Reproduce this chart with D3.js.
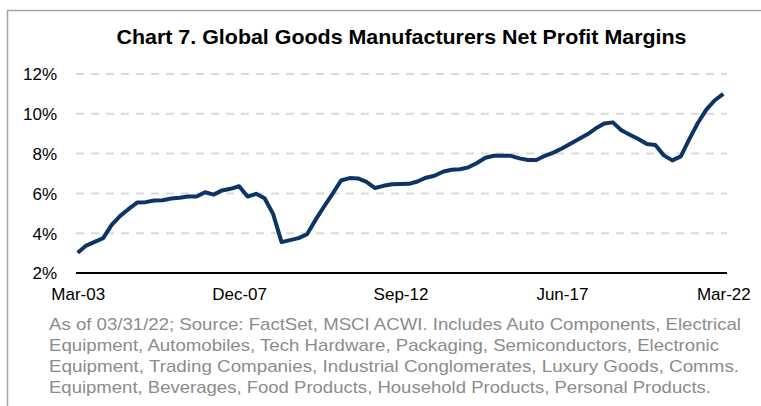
<!DOCTYPE html>
<html>
<head>
<meta charset="utf-8">
<script src="https://cdn.jsdelivr.net/npm/d3@7"></script>
<style>
  html, body { margin: 0; padding: 0; background: #fff; }
  svg { display: block; }
</style>
</head>
<body>
<svg id="chart" width="761" height="406"></svg>
<script>
// Quarter-end net profit margins (%), Mar-03 through Mar-22
const margins = [
  3.02, 3.38, 3.56, 3.75, 4.42, 4.87, 5.22, 5.54, 5.56, 5.64,
  5.66, 5.74, 5.78, 5.84, 5.84, 6.06, 5.94, 6.15, 6.23, 6.36,
  5.84, 5.98, 5.76, 4.97, 3.55, 3.65, 3.75, 3.95, 4.67, 5.34,
  5.98, 6.65, 6.77, 6.75, 6.58, 6.27, 6.38, 6.46, 6.47, 6.48,
  6.60, 6.79, 6.89, 7.09, 7.19, 7.21, 7.31, 7.53, 7.79, 7.89,
  7.89, 7.89, 7.76, 7.68, 7.68, 7.89, 8.05, 8.26, 8.50, 8.73,
  8.97, 9.27, 9.51, 9.57, 9.17, 8.95, 8.73, 8.48, 8.43, 7.91,
  7.66, 7.86, 8.73, 9.54, 10.21, 10.68, 11.00
];

// Quarter labels "Mon-YY" starting at Mar-03
const quarterMonths = ["Mar", "Jun", "Sep", "Dec"];
const startYear = 2003;
const quarters = margins.map((_, i) =>
  quarterMonths[i % 4] + "-" + String((startYear + Math.floor(i / 4)) % 100).padStart(2, "0"));

const xTickLabels = ["Mar-03", "Dec-07", "Sep-12", "Jun-17", "Mar-22"];
const yTicks = [2, 4, 6, 8, 10, 12];

const title = "Chart 7. Global Goods Manufacturers Net Profit Margins";
const footnote = [
  "As of 03/31/22; Source: FactSet, MSCI ACWI. Includes Auto Components, Electrical",
  "Equipment, Automobiles, Tech Hardware, Packaging, Semiconductors, Electronic",
  "Equipment, Trading Companies, Industrial Conglomerates, Luxury Goods, Comms.",
  "Equipment, Beverages, Food Products, Household Products, Personal Products."
];
const footnoteWidths = [692, 670, 690, 662];

const svg = d3.select("#chart");
const font = "'Liberation Sans', Arial, Helvetica, sans-serif";

// Outer frame
svg.append("path")
  .attr("d", "M7.5,406 L7.5,10.5 L761,10.5")
  .attr("fill", "none")
  .attr("stroke", "#a6a6a6")
  .attr("stroke-width", 1.5);

// Title
svg.append("text")
  .attr("x", 116.5)
  .attr("y", 43.5)
  .attr("font-family", font)
  .attr("font-weight", "bold")
  .attr("font-size", 21)
  .attr("fill", "#000")
  .attr("textLength", 570)
  .attr("lengthAdjust", "spacingAndGlyphs")
  .text(title);

const plot = { left: 76, right: 727, top: 74, bottom: 273 };

const x = d3.scalePoint()
  .domain(quarters)
  .range([77.7, 723.3]);

const y = d3.scaleLinear()
  .domain([2, 12])
  .range([plot.bottom, plot.top]);

// Dashed horizontal gridlines
svg.append("g")
  .selectAll("line")
  .data(yTicks.filter(d => d > 2))
  .join("line")
  .attr("x1", plot.left)
  .attr("x2", plot.right)
  .attr("y1", d => y(d))
  .attr("y2", d => y(d))
  .attr("stroke", "#d9d9d9")
  .attr("stroke-width", 2)
  .attr("stroke-dasharray", "8,7");

// Y axis labels
const yAxis = d3.axisLeft(y)
  .tickValues(yTicks)
  .tickSize(0)
  .tickPadding(0)
  .tickFormat(d => d + "%");

svg.append("g")
  .attr("transform", "translate(57,0)")
  .call(yAxis)
  .call(g => g.select(".domain").remove())
  .call(g => g.selectAll("text")
    .attr("font-family", font)
    .attr("font-size", 17)
    .attr("fill", "#000")
    .attr("dy", "0.35em"));

// X axis baseline
svg.append("line")
  .attr("x1", plot.left)
  .attr("x2", plot.right)
  .attr("y1", plot.bottom)
  .attr("y2", plot.bottom)
  .attr("stroke", "#000")
  .attr("stroke-width", 2);

// X axis labels
const xAxis = d3.axisBottom(x)
  .tickValues(xTickLabels)
  .tickSize(0)
  .tickPadding(0);

svg.append("g")
  .attr("transform", `translate(0,${plot.bottom})`)
  .call(xAxis)
  .call(g => g.select(".domain").remove())
  .call(g => g.selectAll("text")
    .attr("font-family", font)
    .attr("font-size", 17)
    .attr("fill", "#000")
    .attr("dy", null)
    .attr("y", 26.5));

// Margin line
const line = d3.line()
  .x((d, i) => x(quarters[i]))
  .y(d => y(d));

svg.append("path")
  .datum(margins)
  .attr("d", line)
  .attr("fill", "none")
  .attr("stroke", "#0c3464")
  .attr("stroke-width", 4)
  .attr("stroke-linejoin", "round")
  .attr("stroke-linecap", "butt");

// Source footnote
svg.append("g")
  .selectAll("text")
  .data(footnote)
  .join("text")
  .attr("x", 49)
  .attr("y", (d, i) => 329.5 + i * 21.3)
  .attr("font-family", font)
  .attr("font-size", 17)
  .attr("fill", "#8c8c8c")
  .attr("textLength", (d, i) => footnoteWidths[i])
  .attr("lengthAdjust", "spacingAndGlyphs")
  .text(d => d);
</script>
</body>
</html>
